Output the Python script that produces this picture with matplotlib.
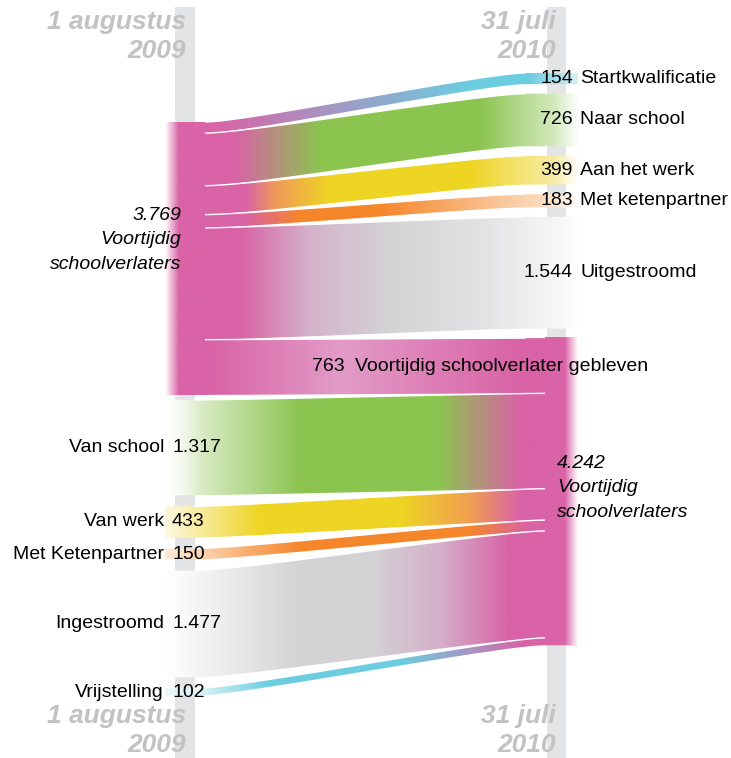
import numpy as np
import matplotlib
matplotlib.use('Agg')
import matplotlib.pyplot as plt
from matplotlib.patches import Polygon, Rectangle
from matplotlib.colors import LinearSegmentedColormap

plt.rcParams['font.family'] = ['Liberation Sans', 'DejaVu Sans']

# data
start_total = 3769
end_total = 4242
out_labels = ['Startkwalificatie', 'Naar school', 'Aan het werk', 'Met ketenpartner',
              'Uitgestroomd', 'Voortijdig schoolverlater gebleven']
out_values = [154, 726, 399, 183, 1544, 763]
in_labels = ['Van school', 'Van werk', 'Met Ketenpartner', 'Ingestroomd', 'Vrijstelling']
in_values = [1317, 433, 150, 1477, 102]

# kleuren
PINK = '#d963a6'
GREEN = '#8bc44f'
YELLOW = '#eed523'
ORANGE = '#f5862a'
GREY = '#d3d3d5'
CYAN = '#6ccde0'
PURPLE = '#a596c3'
BAR = '#e3e4e6'
TITLE = '#c2c2c4'

out_stops = [
    [(165, '#ffffff'), (180, PINK), (215, PINK), (330, PURPLE), (470, CYAN), (530, CYAN), (578, '#d4f0f5')],
    [(165, '#ffffff'), (180, PINK), (235, PINK), (320, GREEN), (480, GREEN), (555, '#d3e9bd'), (580, '#ffffff')],
    [(165, '#ffffff'), (180, PINK), (245, PINK), (275, '#f09a5a'), (330, YELLOW), (470, YELLOW), (555, '#f8eca6'), (580, '#ffffff')],
    [(165, '#ffffff'), (180, PINK), (245, PINK), (300, ORANGE), (380, ORANGE), (545, '#fcdcc0'), (580, '#ffffff')],
    [(165, '#ffffff'), (180, PINK), (240, PINK), (310, '#d4b3ca'), (390, GREY), (480, '#e2e2e4'), (560, '#f7f7f7'), (580, '#ffffff')],
    [(165, '#ffffff'), (180, PINK), (210, PINK), (340, '#e29cc7'), (520, PINK), (580, PINK)],
]
in_stops = [
    [(165, '#ffffff'), (178, '#f8fbf4'), (205, '#d5e9bf'), (300, GREEN), (440, GREEN), (520, PINK), (580, PINK)],
    [(165, '#fdf8dc'), (178, '#fbf3c8'), (260, YELLOW), (400, YELLOW), (470, '#f0a050'), (520, PINK), (580, PINK)],
    [(165, '#fde8d6'), (178, '#fde3cc'), (300, ORANGE), (470, ORANGE), (530, PINK), (580, PINK)],
    [(165, '#ffffff'), (178, '#fbfbfb'), (300, GREY), (370, GREY), (440, '#d4b0c9'), (510, PINK), (580, PINK)],
    [(165, '#eaf8fb'), (200, '#d8f2f7'), (270, CYAN), (400, CYAN), (470, PURPLE), (525, PINK), (580, PINK)],
]

scale = 0.0724      # pixels per leerling
gap = 9.5
gap_in = 11
X0, X1 = 165, 578

fig = plt.figure(figsize=(7.31, 7.58), dpi=100)
ax = fig.add_axes([0, 0, 1, 1])
ax.set_xlim(0, 731)
ax.set_ylim(758, 0)
ax.axis('off')

# grijze tijdlijnen
ax.add_patch(Rectangle((175, 7), 20, 760, color=BAR, zorder=0, lw=0))
ax.add_patch(Rectangle((547, 7), 19, 760, color=BAR, zorder=0, lw=0))


def bezier_edge(xa, xb, y0, y1, k=0.13, n=80):
    t = np.linspace(0, 1, n)
    dx = xb - xa
    b0, b1, b2, b3 = (1 - t) ** 3, 3 * (1 - t) ** 2 * t, 3 * (1 - t) * t ** 2, t ** 3
    x = xa * b0 + (xa + k * dx) * b1 + (xb - k * dx) * b2 + xb * b3
    y = y0 * (b0 + b1) + y1 * (b2 + b3)
    return x, y


def band(xa, xb, l_top, r_top, height, stops, z=2):
    x, top = bezier_edge(xa, xb, l_top, r_top)
    _, bot = bezier_edge(xa, xb, l_top + height, r_top + height)
    x = np.concatenate([[X0], x, [X1]])
    top = np.concatenate([[l_top], top, [r_top]])
    bot = np.concatenate([[l_top + height], bot, [r_top + height]])
    verts = list(zip(x, top)) + list(zip(x[::-1], bot[::-1]))
    poly = Polygon(verts, closed=True, fc='none', ec='none')
    ax.add_patch(poly)
    gx0, gx1 = stops[0][0], stops[-1][0]
    cmap = LinearSegmentedColormap.from_list(
        'g', [((s - gx0) / (gx1 - gx0), c) for s, c in stops])
    grad = np.linspace(0, 1, 600).reshape(1, -1)
    im = ax.imshow(grad, cmap=cmap, extent=(gx0, gx1, max(bot) + 1, min(top) - 1),
                   aspect='auto', interpolation='bilinear', zorder=z)
    im.set_clip_path(poly)
    sel = (x >= xa) & (x <= xb)
    ax.plot(x[sel], top[sel], color='white', lw=1.0, zorder=z + 0.5)


def fmt(v):
    return f'{v:,}'.replace(',', '.')


# uitstroom
left_top = 122
right_top = 73
l_pos, r_pos = left_top, right_top
out_centers = []
for i, (lab, v) in enumerate(zip(out_labels, out_values)):
    h = v * scale
    band(205, 525, l_pos, r_pos, h, out_stops[i])
    out_centers.append(r_pos + h / 2)
    l_pos += h
    r_pos += h + gap
gebleven_left = left_top + sum(out_values[:-1]) * scale
gebleven_right = right_top + sum(out_values[:-1]) * scale + (len(out_values) - 1) * gap
left_bottom = left_top + start_total * scale

# instroom
l_pos = left_bottom + 5
r_pos = gebleven_right + out_values[-1] * scale
in_centers = []
for i, (lab, v) in enumerate(zip(in_labels, in_values)):
    h = v * scale
    band(195, 545, l_pos, r_pos, h, in_stops[i])
    in_centers.append(l_pos + h / 2)
    l_pos += h + gap_in
    r_pos += h
right_bottom = gebleven_right + end_total * scale


def node(x0, x1, y0, y1, fade_left):
    if fade_left:
        stops = [(0, '#ffffff'), (0.35, PINK), (1, PINK)]
    else:
        stops = [(0, PINK), (0.6, PINK), (1, '#ffffff')]
    cmap = LinearSegmentedColormap.from_list('n', stops)
    grad = np.linspace(0, 1, 200).reshape(1, -1)
    ax.imshow(grad, cmap=cmap, extent=(x0, x1, y1, y0), aspect='auto',
              interpolation='bilinear', zorder=4)


node(165, 205, left_top, left_bottom, True)
node(545, 578, gebleven_right, right_bottom, False)

# labels
fs = 14
for i, (lab, v) in enumerate(zip(out_labels, out_values)):
    y = out_centers[i]
    if i == len(out_labels) - 1:
        y = (gebleven_left + gebleven_right) / 2 + v * scale / 2
        ax.text(345, y, fmt(v), ha='right', va='center', fontsize=fs, zorder=6)
        ax.text(355, y, lab, ha='left', va='center', fontsize=fs, zorder=6)
    else:
        ax.text(573, y, fmt(v), ha='right', va='center', fontsize=fs, zorder=6)
        ax.text(580, y, lab, ha='left', va='center', fontsize=fs, zorder=6)

for i, (lab, v) in enumerate(zip(in_labels, in_values)):
    y = in_centers[i]
    ax.text(164, y, lab, ha='right', va='center', fontsize=fs, zorder=6)
    ax.text(172, y, fmt(v), ha='left', va='center', fontsize=fs, zorder=6)

ax.text(181, 240, f'{fmt(start_total)}\nVoortijdig\nschoolverlaters', ha='right', va='center',
        fontsize=fs, style='italic', linespacing=1.55, zorder=6)
ax.text(557, 488, f'{fmt(end_total)}\nVoortijdig\nschoolverlaters', ha='left', va='center',
        fontsize=fs, style='italic', linespacing=1.55, zorder=6)

# datums
tkw = dict(color=TITLE, fontsize=19, fontweight='bold', style='italic', ha='right',
           va='baseline', linespacing=1.25, zorder=1)
ax.text(186, 58, '1 augustus\n2009', **tkw)
ax.text(556, 58, '31 juli\n2010', **tkw)
ax.text(186, 752, '1 augustus\n2009', **tkw)
ax.text(556, 752, '31 juli\n2010', **tkw)

ax.set_xlim(0, 731)
ax.set_ylim(758, 0)
fig.savefig('out.png', dpi=100, facecolor='white')
